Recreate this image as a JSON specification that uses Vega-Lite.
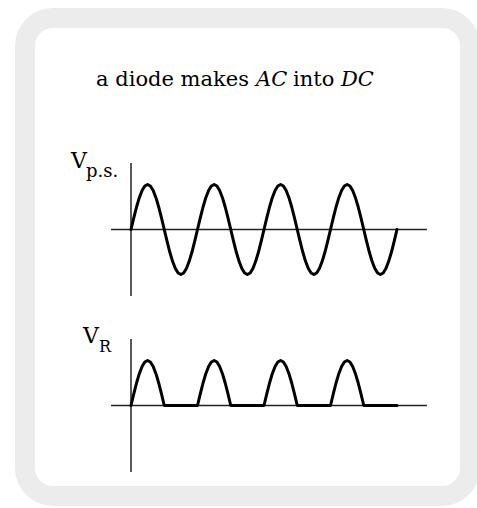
{
  "$schema": "https://vega.github.io/schema/vega-lite/v6.json",
  "width": 445,
  "height": 478,
  "autosize": "none",
  "padding": {"left": 25, "top": 18, "right": 7, "bottom": 12},
  "background": "white",
  "view": {"fill": "white", "stroke": "#ececec", "strokeWidth": 20, "cornerRadius": 28},
  "datasets": {
    "wave": [
      {"t":0,"v":0,"r":0},{"t":0.0417,"v":0.2588,"r":0.2588},{"t":0.0833,"v":0.5,"r":0.5},{"t":0.125,"v":0.7071,"r":0.7071},{"t":0.1667,"v":0.866,"r":0.866},{"t":0.2083,"v":0.9659,"r":0.9659},{"t":0.25,"v":1,"r":1},{"t":0.2917,"v":0.9659,"r":0.9659},{"t":0.3333,"v":0.866,"r":0.866},{"t":0.375,"v":0.7071,"r":0.7071},{"t":0.4167,"v":0.5,"r":0.5},{"t":0.4583,"v":0.2588,"r":0.2588},
      {"t":0.5,"v":0,"r":0},{"t":0.5417,"v":-0.2588,"r":0},{"t":0.5833,"v":-0.5,"r":0},{"t":0.625,"v":-0.7071,"r":0},{"t":0.6667,"v":-0.866,"r":0},{"t":0.7083,"v":-0.9659,"r":0},{"t":0.75,"v":-1,"r":0},{"t":0.7917,"v":-0.9659,"r":0},{"t":0.8333,"v":-0.866,"r":0},{"t":0.875,"v":-0.7071,"r":0},{"t":0.9167,"v":-0.5,"r":0},{"t":0.9583,"v":-0.2588,"r":0},
      {"t":1,"v":0,"r":0},{"t":1.0417,"v":0.2588,"r":0.2588},{"t":1.0833,"v":0.5,"r":0.5},{"t":1.125,"v":0.7071,"r":0.7071},{"t":1.1667,"v":0.866,"r":0.866},{"t":1.2083,"v":0.9659,"r":0.9659},{"t":1.25,"v":1,"r":1},{"t":1.2917,"v":0.9659,"r":0.9659},{"t":1.3333,"v":0.866,"r":0.866},{"t":1.375,"v":0.7071,"r":0.7071},{"t":1.4167,"v":0.5,"r":0.5},{"t":1.4583,"v":0.2588,"r":0.2588},
      {"t":1.5,"v":0,"r":0},{"t":1.5417,"v":-0.2588,"r":0},{"t":1.5833,"v":-0.5,"r":0},{"t":1.625,"v":-0.7071,"r":0},{"t":1.6667,"v":-0.866,"r":0},{"t":1.7083,"v":-0.9659,"r":0},{"t":1.75,"v":-1,"r":0},{"t":1.7917,"v":-0.9659,"r":0},{"t":1.8333,"v":-0.866,"r":0},{"t":1.875,"v":-0.7071,"r":0},{"t":1.9167,"v":-0.5,"r":0},{"t":1.9583,"v":-0.2588,"r":0},
      {"t":2,"v":0,"r":0},{"t":2.0417,"v":0.2588,"r":0.2588},{"t":2.0833,"v":0.5,"r":0.5},{"t":2.125,"v":0.7071,"r":0.7071},{"t":2.1667,"v":0.866,"r":0.866},{"t":2.2083,"v":0.9659,"r":0.9659},{"t":2.25,"v":1,"r":1},{"t":2.2917,"v":0.9659,"r":0.9659},{"t":2.3333,"v":0.866,"r":0.866},{"t":2.375,"v":0.7071,"r":0.7071},{"t":2.4167,"v":0.5,"r":0.5},{"t":2.4583,"v":0.2588,"r":0.2588},
      {"t":2.5,"v":0,"r":0},{"t":2.5417,"v":-0.2588,"r":0},{"t":2.5833,"v":-0.5,"r":0},{"t":2.625,"v":-0.7071,"r":0},{"t":2.6667,"v":-0.866,"r":0},{"t":2.7083,"v":-0.9659,"r":0},{"t":2.75,"v":-1,"r":0},{"t":2.7917,"v":-0.9659,"r":0},{"t":2.8333,"v":-0.866,"r":0},{"t":2.875,"v":-0.7071,"r":0},{"t":2.9167,"v":-0.5,"r":0},{"t":2.9583,"v":-0.2588,"r":0},
      {"t":3,"v":0,"r":0},{"t":3.0417,"v":0.2588,"r":0.2588},{"t":3.0833,"v":0.5,"r":0.5},{"t":3.125,"v":0.7071,"r":0.7071},{"t":3.1667,"v":0.866,"r":0.866},{"t":3.2083,"v":0.9659,"r":0.9659},{"t":3.25,"v":1,"r":1},{"t":3.2917,"v":0.9659,"r":0.9659},{"t":3.3333,"v":0.866,"r":0.866},{"t":3.375,"v":0.7071,"r":0.7071},{"t":3.4167,"v":0.5,"r":0.5},{"t":3.4583,"v":0.2588,"r":0.2588},
      {"t":3.5,"v":0,"r":0},{"t":3.5417,"v":-0.2588,"r":0},{"t":3.5833,"v":-0.5,"r":0},{"t":3.625,"v":-0.7071,"r":0},{"t":3.6667,"v":-0.866,"r":0},{"t":3.7083,"v":-0.9659,"r":0},{"t":3.75,"v":-1,"r":0},{"t":3.7917,"v":-0.9659,"r":0},{"t":3.8333,"v":-0.866,"r":0},{"t":3.875,"v":-0.7071,"r":0},{"t":3.9167,"v":-0.5,"r":0},{"t":3.9583,"v":-0.2588,"r":0},
      {"t":4,"v":0,"r":0}
    ],
    "axes": [
      {"x1": -0.3, "x2": 4.45, "y1": 0, "y2": 0},
      {"x1": 0, "x2": 0, "y1": -1.478, "y2": 1.478}
    ]
  },
  "resolve": {"scale": {"y": "independent"}},
  "layer": [
    {
      "layer": [
        {
          "data": {"name": "axes"},
          "mark": {"type": "rule", "color": "#222222", "strokeWidth": 1.5},
          "encoding": {
            "x": {"field": "x1", "type": "quantitative", "scale": {"domain": [-1.594, 5.0977]}, "axis": null},
            "x2": {"field": "x2"},
            "y": {"field": "y1", "type": "quantitative", "scale": {"domain": [-5.922, 4.7]}, "axis": null},
            "y2": {"field": "y2"}
          }
        },
        {
          "data": {"name": "wave"},
          "mark": {"type": "line", "color": "black", "strokeWidth": 3, "strokeJoin": "round", "strokeCap": "round"},
          "encoding": {
            "x": {"field": "t", "type": "quantitative", "scale": {"domain": [-1.594, 5.0977]}, "axis": null},
            "y": {"field": "v", "type": "quantitative", "scale": {"domain": [-5.922, 4.7]}, "axis": null}
          }
        },
        {
          "data": {"values": [{"text": "a diode makes", "t": -0.526, "v": 3.189}, {"text": "into", "t": 2.436, "v": 3.189}]},
          "mark": {"type": "text", "font": "DejaVu Serif", "fontSize": 21, "align": "left", "baseline": "alphabetic", "color": "black"},
          "encoding": {
            "x": {"field": "t", "type": "quantitative", "scale": {"domain": [-1.594, 5.0977]}, "axis": null},
            "y": {"field": "v", "type": "quantitative", "scale": {"domain": [-5.922, 4.7]}, "axis": null},
            "text": {"field": "text"}
          }
        },
        {
          "data": {"values": [{"text": "AC", "t": 1.88, "v": 3.189}, {"text": "DC", "t": 3.158, "v": 3.189}]},
          "mark": {"type": "text", "font": "DejaVu Serif", "fontSize": 21, "fontStyle": "italic", "align": "left", "baseline": "alphabetic", "color": "black"},
          "encoding": {
            "x": {"field": "t", "type": "quantitative", "scale": {"domain": [-1.594, 5.0977]}, "axis": null},
            "y": {"field": "v", "type": "quantitative", "scale": {"domain": [-5.922, 4.7]}, "axis": null},
            "text": {"field": "text"}
          }
        },
        {
          "data": {"values": [{"text": "V", "t": -0.902, "v": 1.367}]},
          "mark": {"type": "text", "font": "DejaVu Serif", "fontSize": 22, "align": "left", "baseline": "alphabetic", "color": "black"},
          "encoding": {
            "x": {"field": "t", "type": "quantitative", "scale": {"domain": [-1.594, 5.0977]}, "axis": null},
            "y": {"field": "v", "type": "quantitative", "scale": {"domain": [-5.922, 4.7]}, "axis": null},
            "text": {"field": "text"}
          }
        },
        {
          "data": {"values": [{"text": "p.s.", "t": -0.677, "v": 1.167}]},
          "mark": {"type": "text", "font": "DejaVu Serif", "fontSize": 18, "align": "left", "baseline": "alphabetic", "color": "black"},
          "encoding": {
            "x": {"field": "t", "type": "quantitative", "scale": {"domain": [-1.594, 5.0977]}, "axis": null},
            "y": {"field": "v", "type": "quantitative", "scale": {"domain": [-5.922, 4.7]}, "axis": null},
            "text": {"field": "text"}
          }
        }
      ]
    },
    {
      "layer": [
        {
          "data": {"name": "axes"},
          "mark": {"type": "rule", "color": "#222222", "strokeWidth": 1.5},
          "encoding": {
            "x": {"field": "x1", "type": "quantitative", "scale": {"domain": [-1.594, 5.0977]}, "axis": null},
            "x2": {"field": "x2"},
            "y": {"field": "y1", "type": "quantitative", "scale": {"domain": [-2.011, 8.611]}, "axis": null},
            "y2": {"field": "y2"}
          }
        },
        {
          "data": {"name": "wave"},
          "mark": {"type": "line", "color": "black", "strokeWidth": 3, "strokeJoin": "round", "strokeCap": "round"},
          "encoding": {
            "x": {"field": "t", "type": "quantitative", "scale": {"domain": [-1.594, 5.0977]}, "axis": null},
            "y": {"field": "r", "type": "quantitative", "scale": {"domain": [-2.011, 8.611]}, "axis": null}
          }
        },
        {
          "data": {"values": [{"text": "V", "t": -0.722, "v": 1.389}]},
          "mark": {"type": "text", "font": "DejaVu Serif", "fontSize": 22, "align": "left", "baseline": "alphabetic", "color": "black"},
          "encoding": {
            "x": {"field": "t", "type": "quantitative", "scale": {"domain": [-1.594, 5.0977]}, "axis": null},
            "y": {"field": "v", "type": "quantitative", "scale": {"domain": [-2.011, 8.611]}, "axis": null},
            "text": {"field": "text"}
          }
        },
        {
          "data": {"values": [{"text": "R", "t": -0.481, "v": 1.189}]},
          "mark": {"type": "text", "font": "DejaVu Serif", "fontSize": 16, "align": "left", "baseline": "alphabetic", "color": "black"},
          "encoding": {
            "x": {"field": "t", "type": "quantitative", "scale": {"domain": [-1.594, 5.0977]}, "axis": null},
            "y": {"field": "v", "type": "quantitative", "scale": {"domain": [-2.011, 8.611]}, "axis": null},
            "text": {"field": "text"}
          }
        }
      ]
    }
  ]
}
